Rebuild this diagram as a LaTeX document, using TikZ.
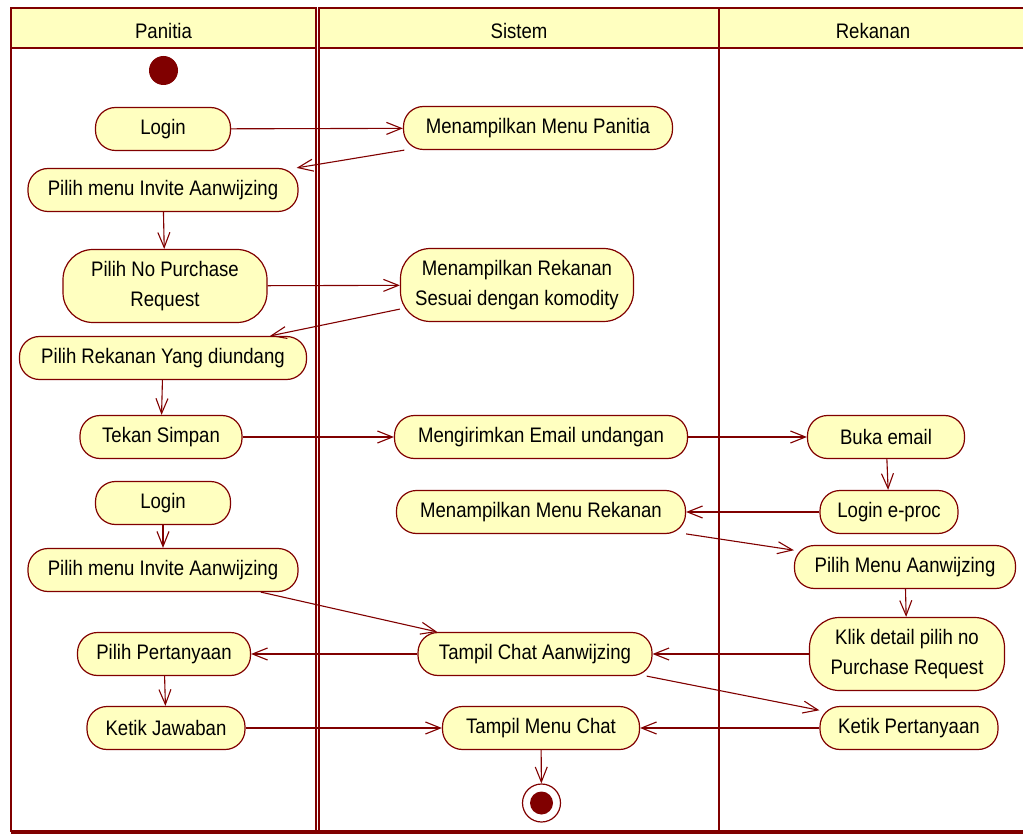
\documentclass[tikz,border=0pt]{standalone}
\usepackage{fontspec}
\setmainfont{Liberation Sans}[FakeStretch=0.885]
\usetikzlibrary{arrows.meta}
\definecolor{umlred}{HTML}{800000}
\definecolor{umlfill}{HTML}{FFFFC0}
\tikzset{
  ad/action/.style={draw=umlred, fill=umlfill, line width=1.2pt, rounded corners=20pt, minimum height=43pt, align=center, inner sep=2pt, font=\fontsize{21}{30}\selectfont},
  ad/tall/.style={ad/action, minimum height=73pt, rounded corners=30pt},
  ad/start/.style={circle, fill=umlred, inner sep=0pt, minimum size=29pt},
  ad/end/.style={circle, draw=umlred, line width=1.2pt, fill=white, inner sep=0pt, minimum size=38pt,
    path picture={\fill[umlred] (path picture bounding box.center) circle (11.5pt);}},
  ad/flow/.style={draw=umlred, line width=1.1pt, -{Straight Barb[length=15pt,width=12pt]}},
  ad/lane/.style={draw=umlred, line width=2.8pt},
  ad/head/.style={ad/lane, fill=umlfill},
  ad/title/.style={font=\fontsize{21}{24}\selectfont}
}
\begin{document}
\begin{tikzpicture}[x=1pt, y=-1pt]
  \useasboundingbox (0,0) rectangle (1023,834);

  % swimlanes
  \draw[ad/lane] (11,8) rectangle (316,831);
  \draw[ad/lane] (319,8) rectangle (719,831);
  \draw[ad/lane] (719,8) rectangle (1035,831);
  \draw[ad/head] (11,8) rectangle (316,48);
  \draw[ad/head] (319,8) rectangle (719,48);
  \draw[ad/head] (719,8) rectangle (1035,48);
  \draw[umlred, line width=5pt] (11,832) -- (1035,832);
  \node[ad/title] (hPanitia) at (163.5,31) {Panitia};
  \node[ad/title] (hSistem) at (519,31) {Sistem};
  \node[ad/title] (hRekanan) at (873,31) {Rekanan};

  % Panitia
  \node[ad/start] (start) at (163.5,70.5) {};
  \node[ad/action, minimum width=135pt] (pLogin) at (163,129) {Login};
  \node[ad/action, minimum width=270pt] (pInvite) at (163,190) {Pilih menu Invite Aanwijzing};
  \node[ad/tall, minimum width=204pt] (pPurchase) at (165,286) {Pilih No Purchase\\Request};
  \node[ad/action, minimum width=287pt] (pRekanan) at (163,358) {Pilih Rekanan Yang diundang};
  \node[ad/action, minimum width=162pt] (pSimpan) at (161,437) {Tekan Simpan};
  \node[ad/action, minimum width=135pt] (pLoginB) at (163,503) {Login};
  \node[ad/action, minimum width=270pt] (pInviteB) at (163,570) {Pilih menu Invite Aanwijzing};
  \node[ad/action, minimum width=173pt] (pTanya) at (164,654) {Pilih Pertanyaan};
  \node[ad/action, minimum width=158pt] (pJawab) at (166,728) {Ketik Jawaban};

  % Sistem
  \node[ad/action, minimum width=269pt] (sMenuP) at (538,128) {Menampilkan Menu Panitia};
  \node[ad/tall, minimum width=233pt] (sRekanan) at (517,285) {Menampilkan Rekanan\\Sesuai dengan komodity};
  \node[ad/action, minimum width=293pt] (sEmail) at (541,437) {Mengirimkan Email undangan};
  \node[ad/action, minimum width=289pt] (sMenuR) at (541,512) {Menampilkan Menu Rekanan};
  \node[ad/action, minimum width=234pt] (sChat) at (535,654) {Tampil Chat Aanwijzing};
  \node[ad/action, minimum width=197pt] (sMenuChat) at (541,728) {Tampil Menu Chat};
  \node[ad/end] (finish) at (541.5,803) {};

  % Rekanan
  \node[ad/action, minimum width=157pt] (rEmail) at (886,437) {Buka email};
  \node[ad/action, minimum width=138pt] (rLogin) at (889,512) {Login e-proc};
  \node[ad/action, minimum width=221pt] (rAanw) at (905,567) {Pilih Menu Aanwijzing};
  \node[ad/tall, minimum width=195pt] (rKlik) at (907,654) {Klik detail pilih no\\Purchase Request};
  \node[ad/action, minimum width=178pt] (rTanya) at (909,728) {Ketik Pertanyaan};

  % flows
  \draw[ad/flow] (pLogin) -- (sMenuP);
  \draw[ad/flow] (sMenuP) -- (pInvite);
  \draw[ad/flow] (pInvite) -- (pPurchase);
  \draw[ad/flow] (pPurchase) -- (sRekanan);
  \draw[ad/flow] (sRekanan) -- (pRekanan);
  \draw[ad/flow] (pRekanan) -- (pSimpan);
  \draw[ad/flow] (pSimpan) -- (sEmail);
  \draw[ad/flow] (sEmail) -- (rEmail);
  \draw[ad/flow] (rEmail) -- (rLogin);
  \draw[ad/flow] (rLogin) -- (sMenuR);
  \draw[ad/flow] (sMenuR) -- (rAanw);
  \draw[ad/flow] (rAanw) -- (rKlik);
  \draw[ad/flow] (rKlik) -- (sChat);
  \draw[ad/flow] (pLoginB) -- (pInviteB);
  \draw[ad/flow] (pInviteB) -- (sChat);
  \draw[ad/flow] (sChat) -- (pTanya);
  \draw[ad/flow] (pTanya) -- (pJawab);
  \draw[ad/flow] (sChat) -- (rTanya);
  \draw[ad/flow] (pJawab) -- (sMenuChat);
  \draw[ad/flow] (rTanya) -- (sMenuChat);
  \draw[ad/flow] (sMenuChat) -- (finish);
\end{tikzpicture}
\end{document}
